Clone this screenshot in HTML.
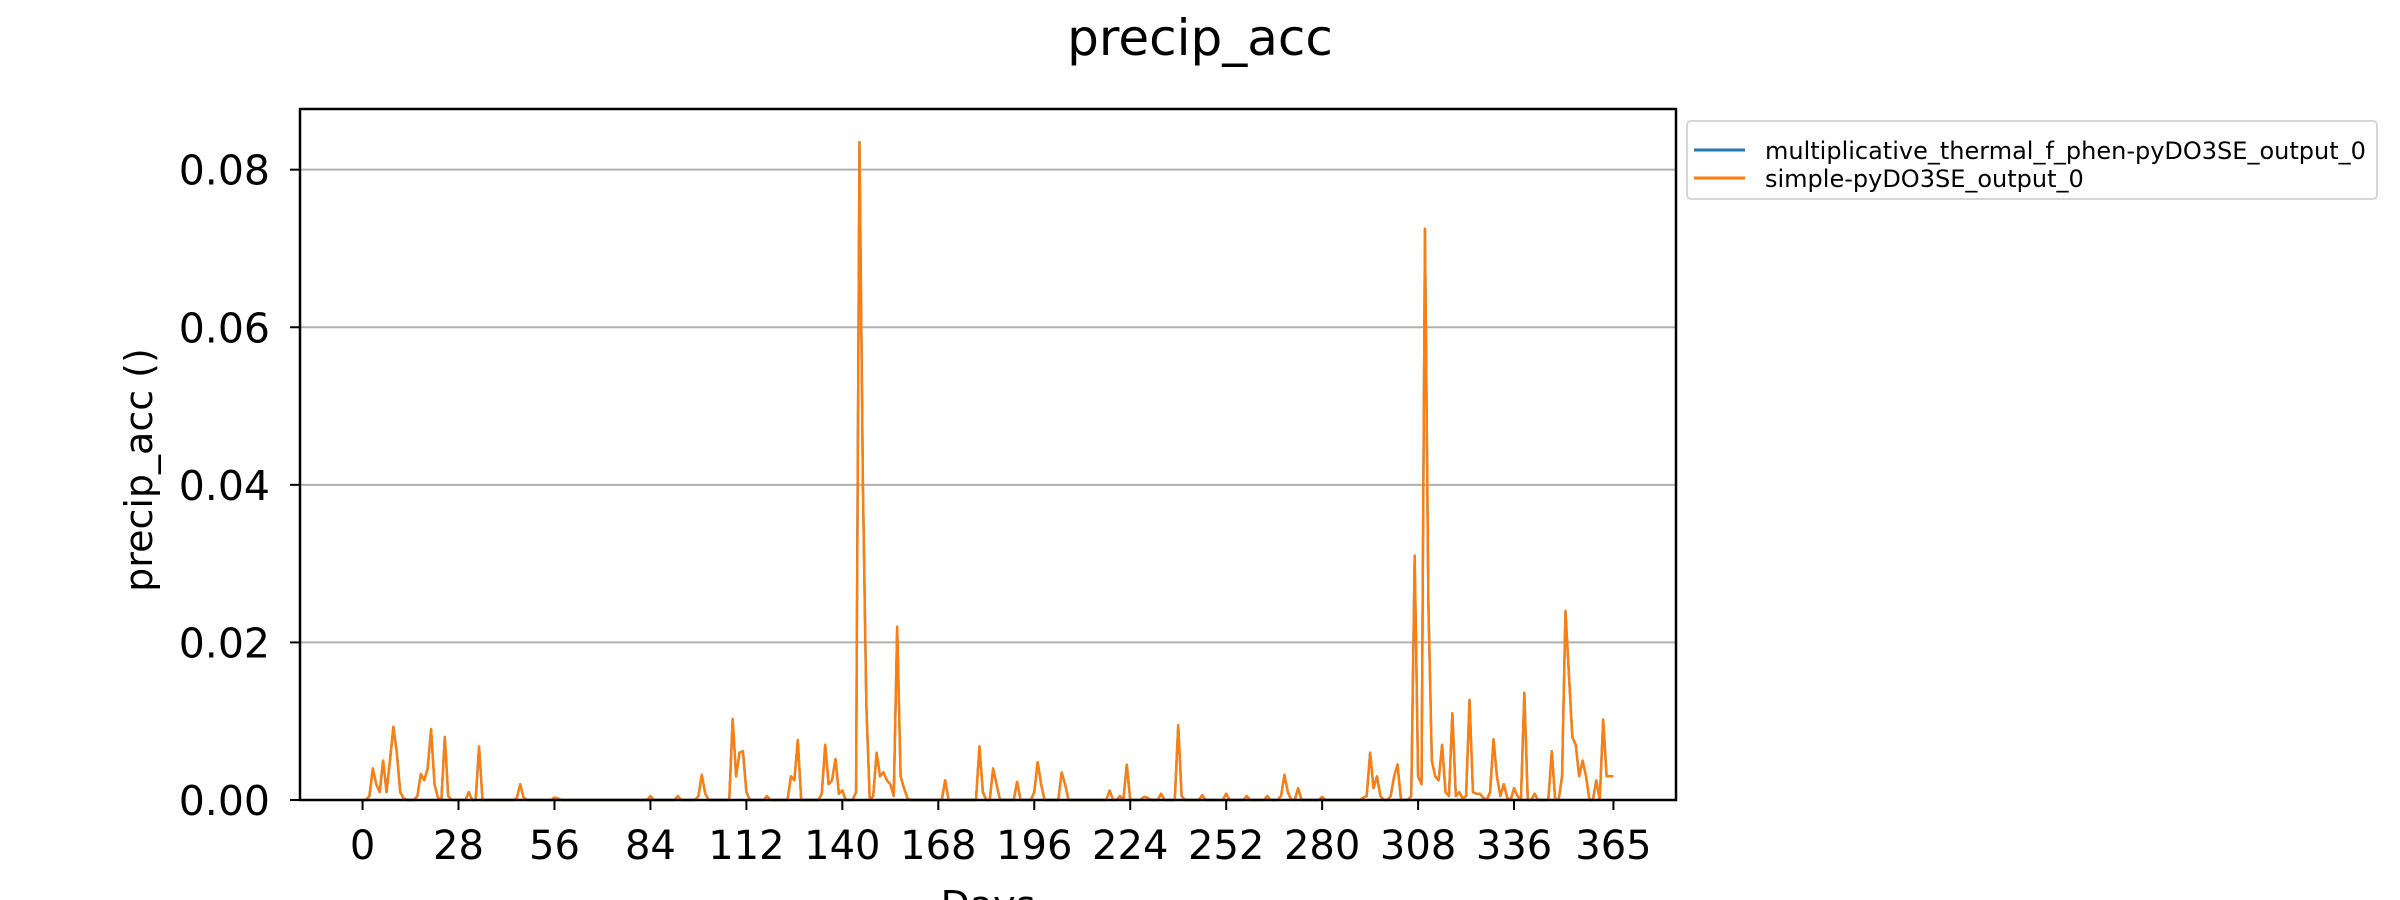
<!DOCTYPE html>
<html>
<head>
<meta charset="utf-8">
<style>
  html, body { margin: 0; padding: 0; background: #fff; }
  svg { display: block; font-family: "DejaVu Sans", "Liberation Sans", sans-serif; }
</style>
</head>
<body>
<svg id="chart" width="2400" height="900" viewBox="0 0 2400 900" xmlns="http://www.w3.org/2000/svg">
  <rect x="0" y="0" width="2400" height="900" fill="#fff"/>
  <text x="1200" y="55" font-size="50" text-anchor="middle" fill="#000">precip_acc</text>
  <g id="grid"></g>
  <g id="series"></g>
  <g id="axes"></g>
  <text transform="translate(152,470) rotate(-90)" font-size="38" text-anchor="middle" fill="#000">precip_acc ()</text>
  <text x="988" y="918" font-size="38" text-anchor="middle" fill="#000">Days</text>
  <g>
    <rect x="1687" y="121" width="690" height="78" rx="4" fill="#fff" stroke="#d6d6d6" stroke-width="2"/>
    <line x1="1694" y1="150" x2="1745" y2="150" stroke="#1f77b4" stroke-width="3"/>
    <text x="1765" y="159" font-size="24" fill="#000">multiplicative_thermal_f_phen-pyDO3SE_output_0</text>
    <line x1="1694" y1="178" x2="1745" y2="178" stroke="#ff7f0e" stroke-width="3"/>
    <text x="1765" y="187" font-size="24" fill="#000">simple-pyDO3SE_output_0</text>
  </g>
</svg>
<script>
const xTicks = [0, 28, 56, 84, 112, 140, 168, 196, 224, 252, 280, 308, 336, 365];
const yTicks = [0, 0.02, 0.04, 0.06, 0.08];
const yTickLabels = ["0.00", "0.02", "0.04", "0.06", "0.08"];
const simpleValues = [
0,0,0.0005,0.004,0.002,0.001,0.005,0.001,0.005,0.0093,
0.006,0.001,0.0002,0,0,0,0.0005,0.0033,0.0025,0.004,
0.009,0.002,0.0003,0,0.008,0.0005,0,0,0,0,
0,0.001,0,0,0.0068,0,0,0,0,0,
0,0,0,0,0,0.0002,0.002,0.0003,0,0,
0,0,0,0,0,0,0.0003,0.0002,0,0,
0,0,0,0,0,0,0,0,0,0,
0,0,0,0,0,0,0,0,0,0,
0,0,0,0,0.0005,0,0,0,0,0,
0,0,0.0005,0,0,0,0,0,0.0005,0.0032,
0.0008,0,0,0,0,0,0,0,0.0103,0.003,
0.006,0.0062,0.001,0,0,0,0,0,0.0005,0,
0,0,0,0,0,0.003,0.0025,0.0076,0,0,
0,0,0,0,0.0008,0.007,0.002,0.0025,0.0052,0.0008,
0.0012,0,0,0,0.001,0.0835,0.04,0.012,0,0.0005,
0.006,0.003,0.0035,0.0025,0.002,0.0005,0.022,0.003,0.0015,0.0002,
0,0,0,0,0,0,0,0,0,0,
0.0025,0,0,0,0,0,0,0,0,0,
0.0068,0.001,0,0,0.004,0.002,0,0,0,0,
0,0.0023,0,0,0,0,0.001,0.0048,0.002,0,
0,0,0,0,0.0035,0.002,0,0,0,0,
0,0,0,0,0,0,0,0,0.0012,0,
0,0.0005,0,0.0045,0,0,0,0,0.0004,0.0003,
0,0,0,0.0008,0,0,0,0,0.0095,0.0005,
0,0,0,0,0,0.0006,0,0,0,0,
0,0,0.0008,0,0,0,0,0,0.0005,0,
0,0,0,0,0.0005,0,0,0,0.0005,0.0032,
0.001,0,0,0.0015,0,0,0,0,0,0,
0.0004,0,0,0,0,0,0,0,0,0,
0,0,0.0003,0.0005,0.006,0.0015,0.003,0.0005,0,0,
0.0005,0.003,0.0045,0,0,0,0.0005,0.031,0.003,0.002,
0.0725,0.025,0.005,0.003,0.0025,0.007,0.001,0.0005,0.011,0.0005,
0.001,0.0002,0.0005,0.0127,0.001,0.0008,0.0008,0.0003,0,0.001,
0.0077,0.003,0.0005,0.002,0.0003,0,0.0015,0.0005,0,0.0136,
0,0,0.0008,0,0,0,0,0.0062,0,0,
0.003,0.024,0.016,0.008,0.007,0.003,0.005,0.003,0,0,
0.0025,0,0.0102,0.003,0.003,0.003
];
const multiplicativeValues = simpleValues.slice();

const NS = "http://www.w3.org/2000/svg";
const plotLeft = 300, plotRight = 1676, plotTop = 109, plotBottom = 800;
const xMin = -18.25, xMax = 383.25, yMin = 0, yMax = 0.0877;
function xScale(d) { return plotLeft + (d - xMin) / (xMax - xMin) * (plotRight - plotLeft); }
function yScale(v) { return plotBottom - (v - yMin) / (yMax - yMin) * (plotBottom - plotTop); }
function mk(tag, attrs, parent) {
  const el = document.createElementNS(NS, tag);
  for (const k in attrs) el.setAttribute(k, attrs[k]);
  parent.appendChild(el);
  return el;
}
const grid = document.getElementById('grid');
const series = document.getElementById('series');
const axes = document.getElementById('axes');

yTicks.forEach((t, i) => {
  const y = yScale(t);
  const g = mk('line', {x1: plotLeft, x2: plotRight, y1: y, y2: y, stroke: '#b0b0b0', 'stroke-width': 2}, grid);
  
  
  const tk = mk('line', {x1: plotLeft - 10, x2: plotLeft, y1: y, y2: y, stroke: '#000', 'stroke-width': 2}, axes);
  
  
  const lb = mk('text', {x: 270, y: y + 15, 'font-size': 41, 'text-anchor': 'end', fill: '#000'}, axes);
  lb.textContent = yTickLabels[i];
  
  
});

xTicks.forEach(t => {
  const x = xScale(t);
  const tk = mk('line', {x1: x, x2: x, y1: plotBottom, y2: plotBottom + 10, stroke: '#000', 'stroke-width': 2}, axes);
  
  
  const lb = mk('text', {x: x, y: plotBottom + 59, 'font-size': 40, 'text-anchor': 'middle', fill: '#000'}, axes);
  lb.textContent = String(t);
  
  
});

function pathFor(vals) {
  return vals.map((v, i) => (i ? 'L' : 'M') + xScale(i).toFixed(2) + ',' + yScale(v).toFixed(2)).join(' ');
}
const pBlue = mk('path', {d: pathFor(multiplicativeValues), fill: 'none', stroke: '#1f77b4', 'stroke-width': 2.4, 'stroke-linejoin': 'round'}, series);


const pOrange = mk('path', {d: pathFor(simpleValues), fill: 'none', stroke: '#ff7f0e', 'stroke-width': 2.4, 'stroke-linejoin': 'round'}, series);



const frame = mk('rect', {x: plotLeft, y: plotTop, width: plotRight - plotLeft, height: plotBottom - plotTop, fill: 'none', stroke: '#000', 'stroke-width': 2.5}, axes);


</script>
</body>
</html>
